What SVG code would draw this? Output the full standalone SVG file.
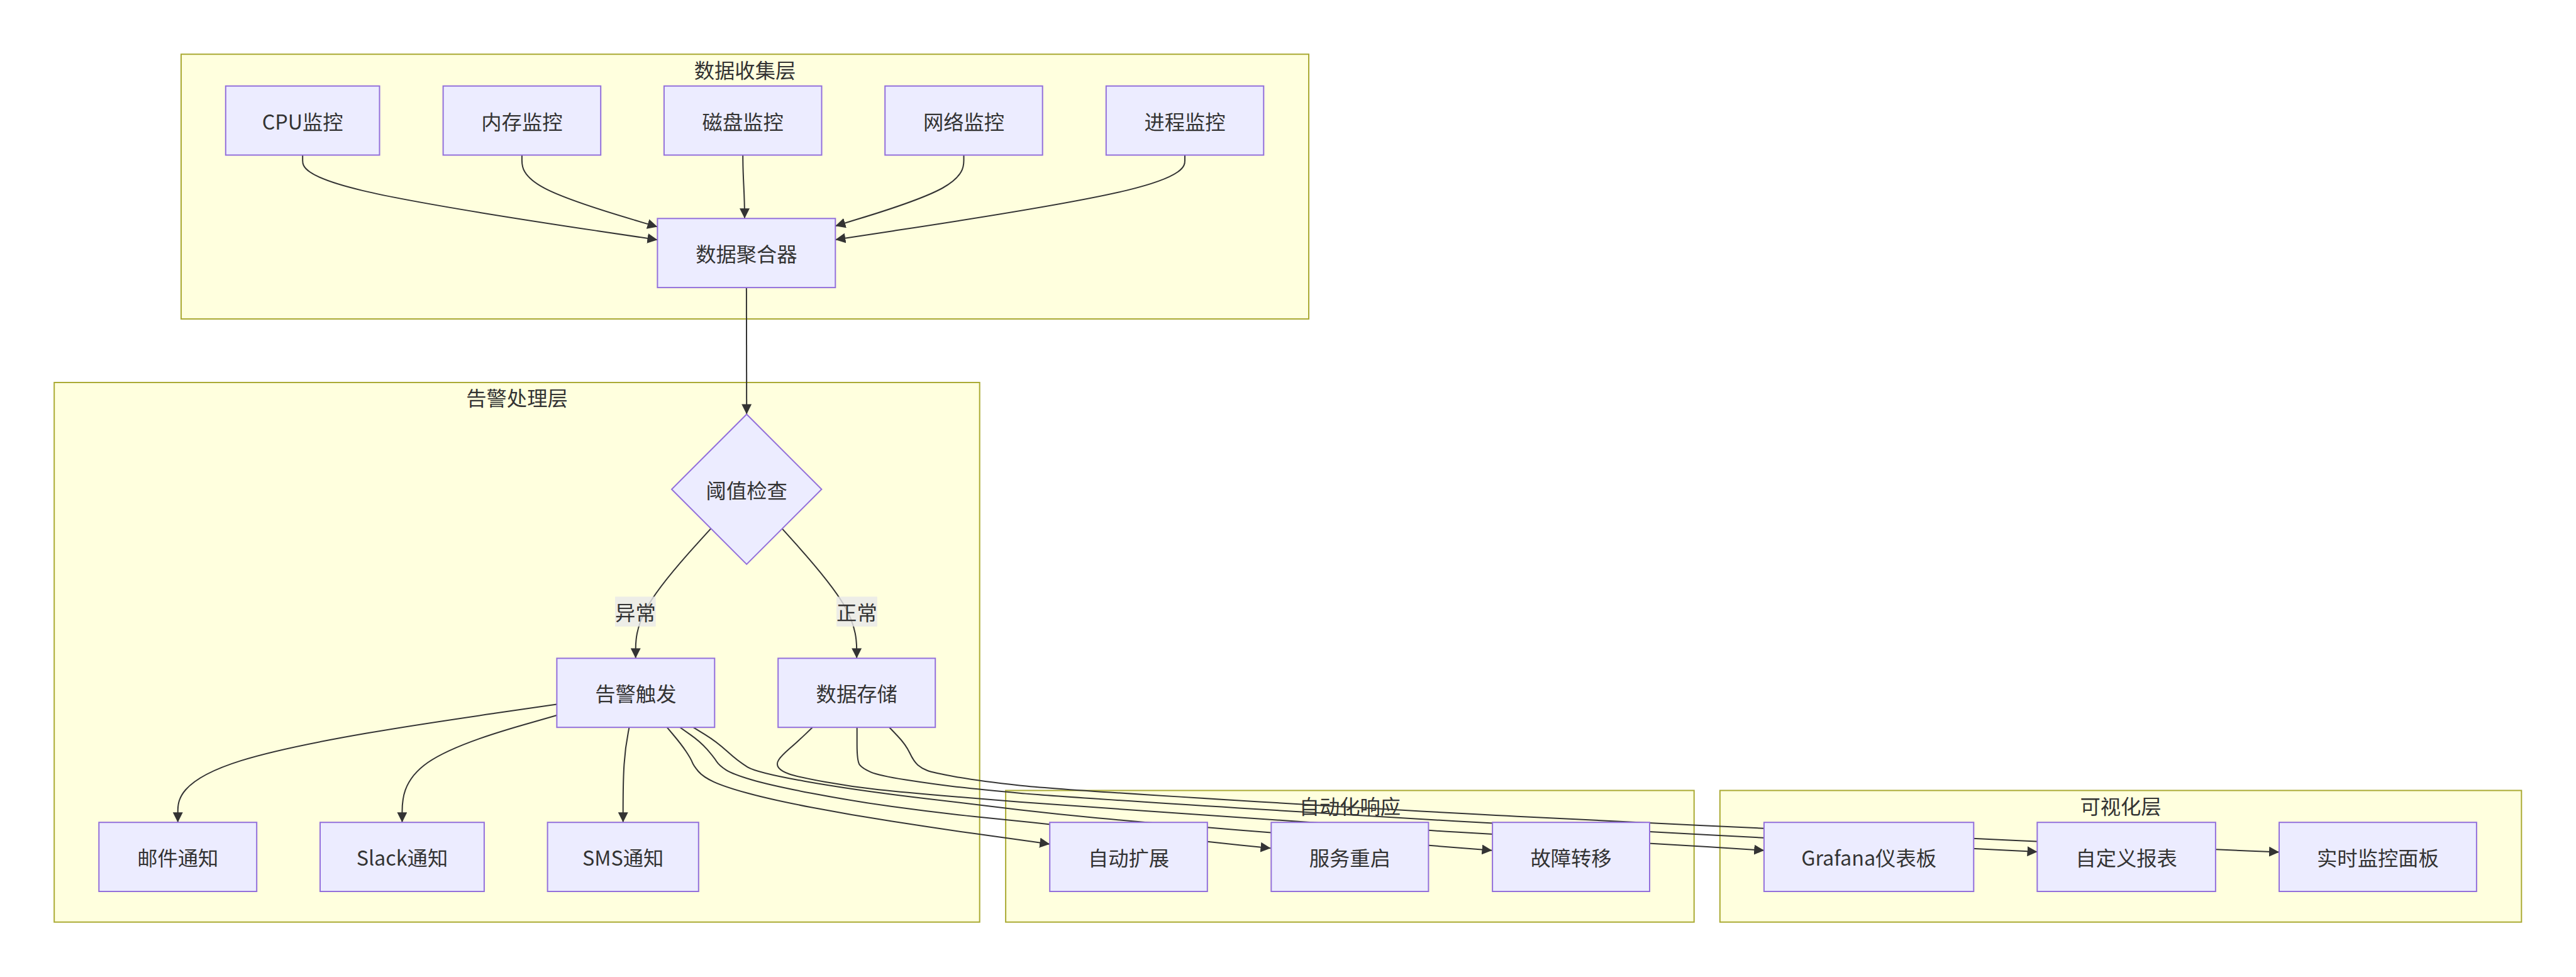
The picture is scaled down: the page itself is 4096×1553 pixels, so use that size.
<svg xmlns="http://www.w3.org/2000/svg" width="4096" height="1553" viewBox="0 0 4096 1553">
<style>
.cluster{fill:#ffffde;stroke:#aaaa33;stroke-width:2}
.node{fill:#ececff;stroke:#9370db;stroke-width:2}
.t{font-family:"Noto Sans CJK SC","Noto Sans",sans-serif;font-size:32.3px;fill:#333;text-anchor:middle;dominant-baseline:central}
.e{fill:none;stroke:#333;stroke-width:2;marker-end:url(#arrow)}
.lbl{fill:#e8e8e8;fill-opacity:0.8}
</style>
<defs>
<marker id="arrow" viewBox="0 0 10 10" refX="10" refY="5" markerUnits="userSpaceOnUse" markerWidth="16" markerHeight="16" orient="auto">
<path d="M0,0 L10,5 L0,10 z" fill="#333"/>
</marker>
</defs>
<rect width="4096" height="1553" fill="#fff"/>
<g id="clusters">
<g id="c-collect"><rect class="cluster" x="288" y="86.2" width="1793" height="420.8"/><text class="t" x="1184.5" y="109.5">数据收集层</text></g>
<g id="c-alert"><rect class="cluster" x="86.2" y="608" width="1471.5" height="857.7"/><text class="t" x="822" y="630.5">告警处理层</text></g>
<g id="c-auto"><rect class="cluster" x="1599.1" y="1256.5" width="1094.6" height="209.2"/><text class="t" x="2146.4" y="1280.4">自动化响应</text></g>
<g id="c-vis"><rect class="cluster" x="2734.8" y="1256.5" width="1274.5" height="209.2"/><text class="t" x="3372" y="1280.4">可视化层</text></g>
</g>
<g id="edges">
<path class="e" d="M481.2,246.5 L481.2,254.9 C481.2,263.3 481.2,280.2 575.2,302.6 C669.3,325.1 857.3,353.1 951.4,367.2 L1045.4,381.2"/>
<path class="e" d="M829.9,246.5 L829.9,254.9 C829.9,263.3 829.9,280.2 865.8,299.2 C901.7,318.2 973.6,339.4 1009.5,350 L1045.4,360.6"/>
<path class="e" d="M1181.2,246.5 C1181.2,290 1184,300 1184,347.3"/>
<path class="e" d="M1532.5,246.5 L1532.5,254.9 C1532.5,263.3 1532.5,280.2 1498.5,299 C1464.4,317.7 1396.4,338.5 1362.3,348.8 L1328.3,359.2"/>
<path class="e" d="M1884,246.5 L1884,254.9 C1884,263.3 1884,280.2 1791.4,302.6 C1698.8,325 1513.5,352.9 1420.9,366.9 L1328.3,380.9"/>
<path class="e" d="M1186.9,457.2 L1187.2,658.5"/>
<path class="e" d="M1130.4,840.1 L1110.4,862.1 C1090.4,884.1 1050.4,928.2 1030.5,962.6 C1010.5,996.9 1010.6,1021.7 1010.7,1034 L1010.7,1046.4"/>
<path class="e" d="M1243.7,840.4 L1263.5,862.4 C1283.2,884.3 1322.7,928.3 1342.5,962.6 C1362.2,996.9 1362.2,1021.7 1362.2,1034 L1362.2,1046.4"/>
<path class="e" d="M885.4,1119.5 L785,1134.1 C684.5,1148.7 483.6,1177.8 383.2,1209.1 C282.75,1240.4 282.75,1273.8 282.75,1290.5 L282.75,1307.2"/>
<path class="e" d="M885.4,1137 L844.4,1148.7 C803.4,1160.3 721.4,1183.7 680.4,1212 C639.45,1240.4 639.45,1273.8 639.45,1290.5 L639.45,1307.2"/>
<path class="e" d="M1000.6,1155.2 L999,1163.8 C997.3,1172.5 994,1189.7 992.4,1215.1 C990.7,1240.4 990.7,1273.8 990.7,1290.5 L990.7,1307.2"/>
<path class="e" d="M1060.2,1155.7 L1071.8,1169.5 Q1083.4,1183.3 1090.9,1194.5 Q1098.4,1205.7 1100.6,1211.4 Q1102.7,1217 1110.3,1226 Q1117.8,1234.9 1135,1242.8 Q1152.2,1250.7 1188.8,1260.8 Q1225.3,1270.9 1289.6,1283.2 Q1353.9,1295.5 1418.5,1305.6 Q1483,1315.7 1549.8,1325.1 Q1616.6,1334.4 1642.9,1338.1 L1669.2,1341.8"/>
<path class="e" d="M1081.3,1156.3 L1097.4,1167.6 Q1113.5,1178.8 1124.3,1191.2 Q1135,1203.5 1139.3,1210.3 Q1143.6,1217 1154.4,1223.8 Q1165.1,1230.5 1195.2,1239.5 Q1225.3,1248.4 1289.6,1260.8 Q1353.9,1273.1 1418.5,1282.1 Q1483,1291.1 1549.8,1297.9 Q1616.6,1304.6 1642.8,1307.4 Q1669,1310.1 1794.7,1324.2 Q1920.4,1338.2 1970.5,1343.3 L2020.5,1348.3"/>
<path class="e" d="M1102.7,1156.3 L1121,1167.6 Q1139.3,1178.8 1156.5,1194.6 Q1173.7,1210.3 1188.7,1219.3 Q1203.7,1228.2 1278.9,1241.7 Q1354.1,1255.1 1456.1,1267.5 Q1558,1279.8 1621,1287.2 Q1684,1294.5 1744.9,1300.2 Q1805.7,1305.8 1863.1,1310.5 Q1920.4,1315.2 1970.5,1319.4 Q2020.5,1323.6 2138.6,1333.2 Q2256.6,1342.7 2314.5,1347.2 L2372.4,1351.7"/>
<path class="e" d="M1291.8,1156.3 L1280,1167.6 Q1268.2,1178.8 1255.3,1190.1 Q1242.4,1201.3 1238.1,1208 Q1233.8,1214.7 1238.1,1220.4 Q1242.4,1226 1255.3,1230.5 Q1268.2,1234.9 1311.2,1242.8 Q1354.1,1250.7 1397.1,1255.2 Q1440,1259.6 1499,1264.7 Q1558,1269.7 1621,1274.8 Q1684,1279.8 1882.3,1293.3 Q2080.6,1306.8 2168.6,1313 Q2256.6,1319.1 2314.5,1322.5 Q2372.4,1325.8 2498.2,1333.2 Q2623.9,1340.5 2714.6,1346.1 L2805.2,1351.7"/>
<path class="e" d="M1362.7,1156.3 L1362.7,1183.3 Q1362.7,1210.3 1367,1215.9 Q1371.3,1221.4 1384.2,1227.1 Q1397,1232.7 1440,1239.5 Q1483,1246.2 1520.5,1250.7 Q1558,1255.1 1621,1260.8 Q1684,1266.4 1970.3,1284.4 Q2256.6,1302.3 2314.5,1305.3 Q2372.4,1308.3 2498.2,1315.2 Q2623.9,1322.1 2714.6,1327 Q2805.2,1331.9 2971.9,1340.5 Q3138.5,1349 3189,1351.5 L3239.5,1353.9"/>
<path class="e" d="M1414.2,1156.3 L1427.1,1169.8 Q1440,1183.3 1446.5,1196.8 Q1452.9,1210.3 1459.3,1215.9 Q1465.7,1221.4 1474.4,1224.8 Q1483,1228.2 1520.5,1234.9 Q1558,1241.6 1621,1248.4 Q1684,1255.1 1970.3,1272.5 Q2256.6,1289.9 2428.4,1298.4 Q2600.1,1306.8 2702.7,1311.9 Q2805.2,1316.9 2971.9,1324.8 Q3138.5,1332.6 3189,1335.2 Q3239.5,1337.8 3381.2,1344.1 Q3522.9,1350.3 3573.5,1352.4 L3624,1354.4"/>
</g>
<g id="edge-labels">
<g id="lbl-abnormal"><rect class="lbl" x="978" y="948.4" width="64.7" height="47.5"/><text class="t" x="1010.4" y="972.2">异常</text></g>
<g id="lbl-normal"><rect class="lbl" x="1330.1" y="948.4" width="64.7" height="47.5"/><text class="t" x="1362.4" y="972.2">正常</text></g>
</g>
<g id="n-cpu"><rect class="node" x="358.8" y="136.7" width="244.7" height="109.8"/><text class="t" x="481.2" y="191.6">CPU监控</text></g>
<g id="n-mem"><rect class="node" x="704.6" y="136.7" width="250.6" height="109.8"/><text class="t" x="829.9" y="191.6">内存监控</text></g>
<g id="n-disk"><rect class="node" x="1055.9" y="136.7" width="250.6" height="109.8"/><text class="t" x="1181.2" y="191.6">磁盘监控</text></g>
<g id="n-net"><rect class="node" x="1407.2" y="136.7" width="250.5" height="109.8"/><text class="t" x="1532.5" y="191.6">网络监控</text></g>
<g id="n-proc"><rect class="node" x="1758.8" y="136.7" width="250.5" height="109.8"/><text class="t" x="1884" y="191.6">进程监控</text></g>
<g id="n-agg"><rect class="node" x="1045.4" y="347.3" width="282.9" height="109.8"/><text class="t" x="1186.9" y="402.2">数据聚合器</text></g>
<g id="n-check"><polygon class="node" points="1187.2,658.5 1306.4,777.7 1187.2,896.9 1068,777.7"/><text class="t" x="1187.2" y="777.7">阈值检查</text></g>
<g id="n-alarm"><rect class="node" x="885.4" y="1046.4" width="250.9" height="109.8"/><text class="t" x="1010.85" y="1101.3">告警触发</text></g>
<g id="n-store"><rect class="node" x="1237.2" y="1046.4" width="250" height="109.8"/><text class="t" x="1362.2" y="1101.3">数据存储</text></g>
<g id="n-mail"><rect class="node" x="157.3" y="1307.2" width="250.9" height="109.8"/><text class="t" x="282.75" y="1362.1">邮件通知</text></g>
<g id="n-slack"><rect class="node" x="509" y="1307.2" width="260.9" height="109.8"/><text class="t" x="639.45" y="1362.1">Slack通知</text></g>
<g id="n-sms"><rect class="node" x="870.6" y="1307.2" width="240.2" height="109.8"/><text class="t" x="990.7" y="1362.1">SMS通知</text></g>
<g id="n-scale"><rect class="node" x="1669.2" y="1307.2" width="250.6" height="109.8"/><text class="t" x="1794.5" y="1362.1">自动扩展</text></g>
<g id="n-restart"><rect class="node" x="2021.3" y="1307.2" width="250.1" height="109.8"/><text class="t" x="2146.35" y="1362.1">服务重启</text></g>
<g id="n-failover"><rect class="node" x="2373.1" y="1307.2" width="249.9" height="109.8"/><text class="t" x="2498.05" y="1362.1">故障转移</text></g>
<g id="n-grafana"><rect class="node" x="2804.9" y="1307.2" width="333.4" height="109.8"/><text class="t" x="2971.6" y="1362.1">Grafana仪表板</text></g>
<g id="n-report"><rect class="node" x="3239.3" y="1307.2" width="283.6" height="109.8"/><text class="t" x="3381.1" y="1362.1">自定义报表</text></g>
<g id="n-realtime"><rect class="node" x="3624" y="1307.2" width="313.9" height="109.8"/><text class="t" x="3780.95" y="1362.1">实时监控面板</text></g>
</svg>
